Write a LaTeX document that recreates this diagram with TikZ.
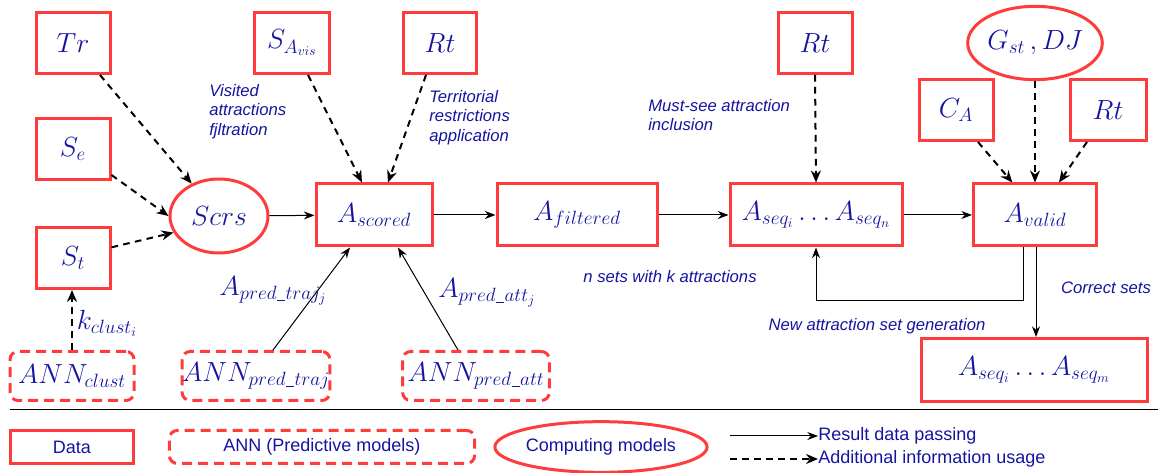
\documentclass[tikz,border=0pt]{standalone}
\usepackage{fontspec}
\newfontfamily\labfont{Liberation Sans}
\usetikzlibrary{arrows.meta,shapes.geometric}
\definecolor{tblue}{RGB}{20,20,160}
\definecolor{bred}{RGB}{255,60,60}
\newcommand{\usc}{\kern0.4pt\rule[-1pt]{6pt}{0.55pt}\kern0.4pt}
\begin{document}
\begin{tikzpicture}[x=0.75pt,y=-0.75pt,
  databox/.style={draw=bred,line width=2.25pt,inner sep=0pt,text=tblue,
    font=\fontsize{20}{24}\selectfont,minimum height=46.5pt},
  annbox/.style={databox,dash pattern=on 7.5pt off 4.5pt,rounded corners=6pt,minimum height=36.75pt},
  compell/.style={ellipse,draw=bred,line width=2.25pt,inner sep=0pt,text=tblue,
    font=\fontsize{20}{24}\selectfont},
  res/.style={-{Stealth[length=8pt,width=6pt]},line width=0.75pt},
  info/.style={-{Stealth[length=9pt,width=7.5pt]},line width=1.5pt,dash pattern=on 5pt off 4pt},
  lab/.style={text=tblue,font=\labfont\itshape\fontsize{12.5}{14.5}\selectfont,align=left,inner sep=0pt},
  mlab/.style={text=tblue,font=\fontsize{20}{24}\selectfont,inner sep=0pt},
  leg/.style={text=tblue,font=\labfont\fontsize{13.5}{16}\selectfont}
]
\useasboundingbox (0,0) rectangle (1158,473);

% data boxes
\node[databox,minimum width=55.5pt,minimum height=45.75pt] (Tr) at (73,43) {$Tr$};
\node[databox,minimum width=55.5pt,minimum height=45.75pt] (Se) at (73,149) {$S_e$};
\node[databox,minimum width=55.5pt,minimum height=45.75pt] (St) at (73,258) {$S_t$};
\node[databox,minimum width=56pt,minimum height=45.75pt] (SA) at (292,43) {$S_{A_{vis}}$};
\node[databox,minimum width=55pt,minimum height=45.75pt] (Rt1) at (440,43) {$Rt$};
\node[databox,minimum width=55.5pt,minimum height=45.75pt] (Rt2) at (815,43) {$Rt$};
\node[databox,minimum width=55.5pt,minimum height=45.75pt] (CA) at (956,110) {$C_A$};
\node[databox,minimum width=57pt,minimum height=45.75pt] (Rt3) at (1108,110) {$Rt$};
\node[compell,minimum width=73.5pt,minimum height=55pt] (G) at (1035,43) {$G_{st}\,,DJ$};

\node[compell,minimum width=73.5pt,minimum height=55.5pt] (scrs) at (219,216) {$Scrs$};
\node[databox,minimum width=87pt] (scored) at (374,215) {$A_{scored}$};
\node[databox,minimum width=120pt] (filt) at (577,215) {$A_{filtered}$};
\node[databox,minimum width=129pt] (seq) at (816,215) {$A_{seq_i}\ldots A_{seq_n}$};
\node[databox,minimum width=92.25pt] (valid) at (1035,215) {$A_{valid}$};
\node[databox,minimum width=169.5pt,minimum height=47.25pt] (seqm) at (1034,370) {$A_{seq_i}\ldots A_{seq_m}$};

% ANN boxes
\node[annbox,minimum width=93pt] (annc) at (72,376) {$ANN_{clust}$};
\node[annbox,minimum width=110pt] (annt) at (256,376) {$ANN_{pred\usc traj}$};
\node[annbox,minimum width=110pt] (anna) at (476,376) {$ANN_{pred\usc att}$};

% dashed info arrows
\draw[info] (Tr) -- (scrs);
\draw[info] ([yshift=4.5pt]Se.south east) -- (scrs.west);
\draw[info] ([yshift=8pt]St.east) -- (scrs.200);
\draw[info] ([xshift=12pt]SA.south) -- ([xshift=-9pt]scored.north);
\draw[info] ([xshift=-10.5pt]Rt1.south) -- ([xshift=10.5pt]scored.north);
\draw[info] (Rt2.south) -- (seq.north);
\draw[info] ([xshift=16.5pt]CA.south) -- ([xshift=-17pt]valid.north);
\draw[info] (G.south) -- (valid.north);
\draw[info] ([xshift=-15.75pt]Rt3.south) -- ([xshift=18pt]valid.north);
\draw[info] (annc.north) -- (annc.north |- St.south);

% result arrows
\draw[res] (scrs) -- (scored);
\draw[res] (scored) -- (filt);
\draw[res] (filt) -- (seq);
\draw[res] (seq) -- (valid);
\draw[res] ([xshift=12.75pt]annt.north) -- ([xshift=-18pt]scored.south);
\draw[res] ([xshift=-13.5pt]anna.north) -- ([xshift=18pt]scored.south);
\draw[res] ([xshift=-9pt]valid.south) -- ++(0,53) -| (seq.south);
\draw[res] ([xshift=0.75pt]valid.south) -- ([xshift=0.75pt]valid.south |- seqm.north);

% labels
\node[lab,anchor=north west] (l1) at (209,84) {Visited\\attractions\\fjltration};
\node[lab,anchor=north west] (l2) at (429,90) {Territorial\\restrictions\\application};
\node[lab,anchor=north west] (l3) at (648,99) {Must-see attraction\\inclusion};
\node[lab] (l4) at (670,277) {n sets with k attractions};
\node[lab] (l5) at (877,326) {New attraction set generation};
\node[lab] (l6) at (1106,288) {Correct sets};
\node[mlab] (m1) at (273,291) {$A_{pred\usc traj_j}$};
\node[mlab] (m2) at (487,293) {$A_{pred\usc att_j}$};
\node[mlab] (m3) at (107,323) {$k_{clust_i}$};

% separator
\coordinate (sepL) at (10,410);
\coordinate (sepR) at (1158,410);
\draw[line width=0.75pt] (sepL) -- (sepR);

% legend
\node[databox,minimum width=92pt,minimum height=24.75pt,font=\labfont\fontsize{13.5}{16}\selectfont] (ld) at (72,447) {Data};
\node[annbox,minimum width=229pt,minimum height=24.75pt,font=\labfont\fontsize{13.5}{16}\selectfont] (la) at (322,447) {ANN (Predictive models)};
\node[compell,minimum width=156pt,minimum height=38pt,font=\labfont\fontsize{13.5}{16}\selectfont] (lc) at (601,447) {Computing models};
\node[leg,anchor=west,inner sep=0pt] (lr) at (818,436) {Result data passing};
\node[leg,anchor=west,inner sep=0pt] (li) at (818,459) {Additional information usage};
\coordinate (ar1) at (730,436);
\coordinate (ar2) at (730,459);
\draw[res] (ar1) -- (lr.west);
\draw[info] (ar2) -- (li.west);
\end{tikzpicture}
\end{document}
